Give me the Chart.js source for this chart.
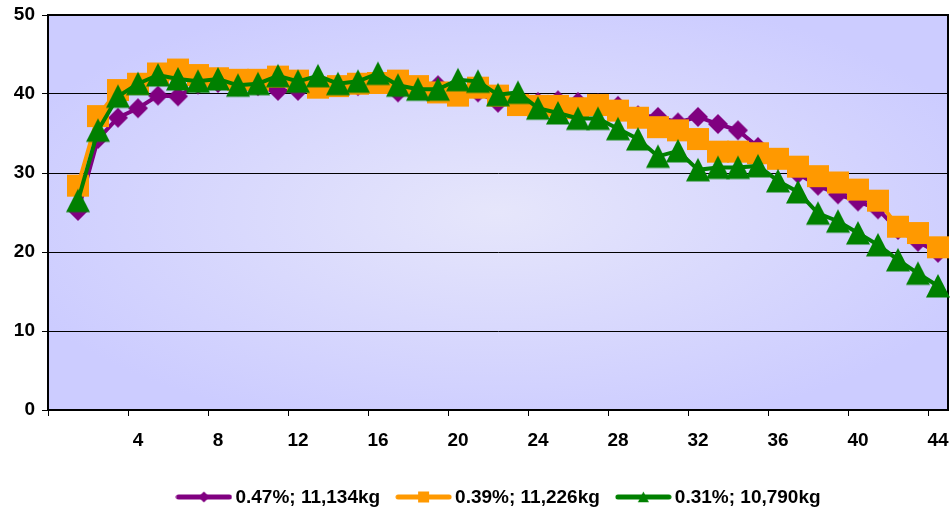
<!DOCTYPE html>
<html>
<head>
<meta charset="utf-8">
<script src="https://cdn.jsdelivr.net/npm/chart.js@4/dist/chart.umd.min.js"></script>
<style>
  body { margin: 0; background: #fff; }
  #wrap { width: 952px; height: 514px; }
</style>
</head>
<body>
<div id="wrap"><canvas id="dryingChart" width="952" height="514"></canvas></div>
<script>
// x categories (week 0 has no reading)
const weeks = [0, 1, 2, 3, 4, 5, 6, 7, 8, 9, 10, 11, 12, 13, 14, 15, 16, 17, 18, 19, 20, 21, 22,
  23, 24, 25, 26, 27, 28, 29, 30, 31, 32, 33, 34, 35, 36, 37, 38, 39, 40, 41, 42, 43, 44];

const seriesNames = ['0.47%; 11,134kg', '0.39%; 11,226kg', '0.31%; 10,790kg'];

const rate047 = [null, 25.2, 34.3, 37.0, 38.2, 39.8, 39.7, 41.2, 41.4, 41.0, 41.0, 40.4, 40.4, 41.0,
  41.2, 41.0, 41.3, 40.2, 40.8, 41.1, 40.8, 40.2, 38.9, 39.5, 39.0, 39.2, 39.0, 38.8, 38.5, 37.3,
  37.1, 36.4, 37.1, 36.2, 35.4, 33.3, 31.6, 29.9, 28.4, 27.3, 26.4, 25.4, 22.8, 21.3, 19.9];

const rate039 = [null, 28.4, 37.2, 40.5, 41.3, 42.6, 43.1, 42.4, 42.0, 41.8, 41.8, 42.2, 41.7, 40.8,
  41.0, 41.3, 41.4, 41.7, 41.0, 40.2, 39.8, 40.8, 39.8, 38.6, 38.5, 38.5, 38.2, 38.6, 37.9, 37.0,
  35.8, 35.4, 34.3, 32.7, 32.7, 32.5, 31.8, 30.8, 29.6, 28.8, 27.9, 26.5, 23.2, 22.4, 20.6];

const rate031 = [null, 26.5, 35.4, 39.7, 41.3, 42.4, 41.9, 41.6, 41.9, 41.1, 41.3, 42.3, 41.6, 42.3,
  41.3, 41.6, 42.6, 41.1, 40.6, 40.6, 41.8, 41.6, 39.9, 40.2, 38.2, 37.6, 36.9, 36.9, 35.6, 34.3,
  32.1, 32.8, 30.4, 30.7, 30.7, 30.9, 29.0, 27.6, 24.9, 23.9, 22.4, 20.9, 19.0, 17.3, 15.7];

const yTicks = [0, 10, 20, 30, 40, 50];

const colors = ['#800080', '#ff9900', '#008000'];

const FONT = '"Liberation Sans", Arial, sans-serif';

// marker shapes drawn on small canvases so they sit centred on the value
function shapePath(ctx, shape, cx, cy, s) {
  ctx.beginPath();
  if (shape === 'diamond') {
    ctx.moveTo(cx, cy - s); ctx.lineTo(cx + s, cy); ctx.lineTo(cx, cy + s); ctx.lineTo(cx - s, cy);
  } else if (shape === 'square') {
    ctx.rect(cx - s, cy - s, 2 * s, 2 * s);
  } else {
    ctx.moveTo(cx, cy - s); ctx.lineTo(cx + s, cy + s * 0.95); ctx.lineTo(cx - s, cy + s * 0.95);
  }
  ctx.closePath();
}

function makeMarker(shape, color, size) {
  const c = document.createElement('canvas');
  c.width = c.height = Math.ceil(size * 2) + 2;
  const ctx = c.getContext('2d');
  ctx.fillStyle = color;
  shapePath(ctx, shape, c.width / 2, c.height / 2, size);
  ctx.fill();
  return c;
}

function makeLegendIcon(shape, color) {
  const c = document.createElement('canvas');
  c.width = 57; c.height = 16;
  const ctx = c.getContext('2d');
  ctx.strokeStyle = color;
  ctx.lineWidth = 5;
  ctx.lineCap = 'round';
  ctx.beginPath(); ctx.moveTo(3, 8); ctx.lineTo(54, 8); ctx.stroke();
  ctx.fillStyle = color;
  shapePath(ctx, shape, 28.5, 8, 5.5);
  ctx.fill();
  return c;
}

const shapes = ['diamond', 'square', 'triangle'];
const markerSizes = [10, 11, 12];
const markers = shapes.map((s, i) => makeMarker(s, colors[i], markerSizes[i]));
const legendIcons = shapes.map((s, i) => makeLegendIcon(s, colors[i]));

// lavender plot area, lighter towards the middle, with a black frame
const plotBackground = {
  id: 'plotBackground',
  beforeDraw(chart) {
    const { ctx, chartArea: a } = chart;
    const cx = (a.left + a.right) / 2, cy = (a.top + a.bottom) / 2;
    const rx = (a.right - a.left) / 2, ry = (a.bottom - a.top) / 2;
    ctx.save();
    ctx.translate(cx, cy);
    ctx.scale(rx / ry, 1);
    const g = ctx.createRadialGradient(0, 0, 0, 0, 0, ry * 1.15);
    g.addColorStop(0, '#e6e6fb');
    g.addColorStop(1, '#ccccff');
    ctx.fillStyle = g;
    ctx.fillRect(-ry, -ry, 2 * ry, 2 * ry);
    ctx.restore();
  },
  beforeDatasetsDraw(chart) {
    const { ctx, chartArea: a } = chart;
    ctx.save();
    ctx.strokeStyle = '#000';
    ctx.lineWidth = 2;
    ctx.beginPath();
    ctx.moveTo(a.left, a.top); ctx.lineTo(a.right, a.top); ctx.lineTo(a.right, a.bottom);
    ctx.stroke();
    ctx.restore();
  }
};

// legend row under the axis: line-and-marker sample followed by the series name
const legendRow = {
  id: 'legendRow',
  afterDraw(chart) {
    const { ctx, chartArea: a } = chart;
    const gap = 3, spacing = 15, y = 497;
    ctx.save();
    ctx.font = 'bold 19px ' + FONT;
    ctx.fillStyle = '#000';
    ctx.textBaseline = 'middle';
    const widths = seriesNames.map((n, i) => legendIcons[i].width + gap + ctx.measureText(n).width);
    const total = widths.reduce((s, w) => s + w, 0) + spacing * (widths.length - 1);
    let x = (a.left + a.right) / 2 - total / 2;
    seriesNames.forEach((name, i) => {
      const icon = legendIcons[i];
      ctx.drawImage(icon, x, y - icon.height / 2);
      ctx.fillText(name, x + icon.width + gap, y + 1);
      x += widths[i] + spacing;
    });
    ctx.restore();
  }
};

Chart.defaults.font.family = FONT;
Chart.defaults.font.size = 19;
Chart.defaults.font.weight = 'bold';
Chart.defaults.color = '#000';

const datasets = [rate047, rate039, rate031].map((values, i) => ({
  label: seriesNames[i],
  data: values,
  borderColor: colors[i],
  backgroundColor: colors[i],
  borderWidth: 4,
  tension: 0,
  fill: false,
  pointStyle: markers[i],
  pointRadius: 10,
  pointHoverRadius: 10,
  order: 3 - i
}));

const ctx = document.getElementById('dryingChart').getContext('2d');

const dryingChart = new Chart(ctx, {
  type: 'line',
  data: { labels: weeks, datasets: datasets },
  options: {
    responsive: false,
    animation: false,
    layout: { autoPadding: false, padding: { top: 15, right: 4, left: 0, bottom: 34 } },
    scales: {
      x: {
        type: 'category',
        offset: true,
        afterFit(scale) { scale.height = 70; },
        grid: {
          offset: true,
          drawOnChartArea: false,
          tickLength: 6,
          color: (c) => (c.index % 4 === 0 ? '#000' : 'rgba(0,0,0,0)'),
          lineWidth: 1
        },
        border: { display: true, color: '#000', width: 2 },
        ticks: {
          autoSkip: false,
          maxRotation: 0,
          padding: 0,
          font: { lineHeight: 2.6 },
          callback: (v, i) => (i > 0 && i % 4 === 0 ? String(weeks[i]) : '')
        }
      },
      y: {
        min: yTicks[0],
        max: yTicks[yTicks.length - 1],
        afterFit(scale) {
          scale.width = 48;
          scale.paddingTop = 0;
          scale.paddingBottom = 0;
        },
        afterBuildTicks(scale) { scale.ticks = yTicks.map(v => ({ value: v })); },
        grid: { color: '#000', lineWidth: 1, tickLength: 6 },
        border: { display: true, color: '#000', width: 2 },
        ticks: { padding: 7 }
      }
    },
    plugins: {
      legend: { display: false },
      tooltip: { enabled: false }
    }
  },
  plugins: [plotBackground, legendRow]
});
</script>
</body>
</html>
